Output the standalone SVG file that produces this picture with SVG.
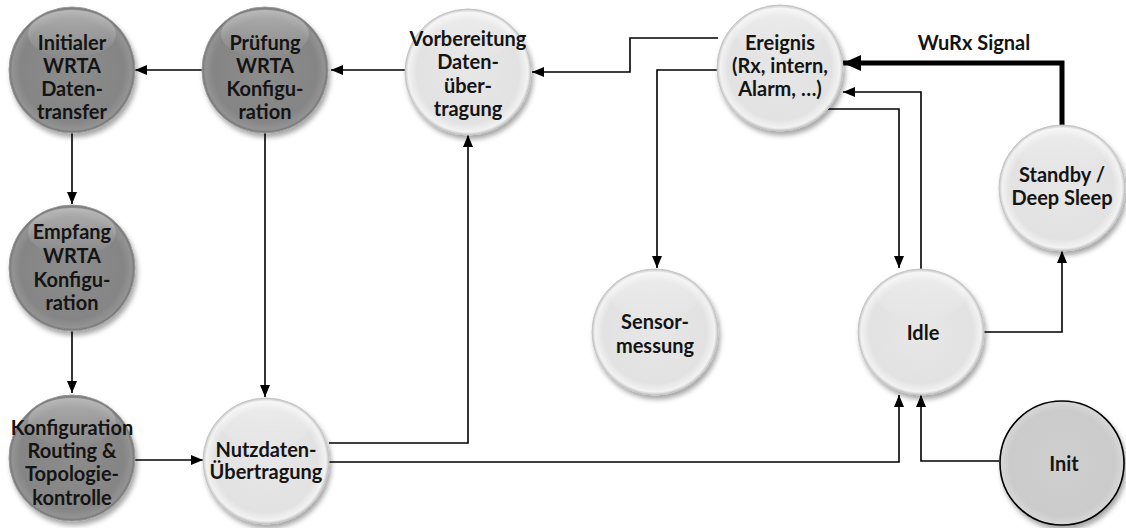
<svg xmlns="http://www.w3.org/2000/svg" width="1126" height="528" viewBox="0 0 1126 528">
  <defs>
    <style>
      .lbl { font-family: Lato, "Liberation Sans", sans-serif; font-weight: bold; font-size: 20px; fill: #141414; text-anchor: middle; }
      .wire { fill: none; stroke: #000; stroke-width: 1.6; marker-end: url(#arrow); }
      .wire-bold { fill: none; stroke: #000; stroke-width: 5; marker-end: url(#arrow-big); }
      .dark { fill: url(#gDark); stroke: #9a9a9a; stroke-width: 1; filter: url(#shadow); }
      .light { fill: url(#gLight); stroke: #c4c4c4; stroke-width: 1; filter: url(#shadow); }
      .init { fill: url(#gInit); stroke: #000; stroke-width: 1.6; filter: url(#shadow); }
      .gloss { fill: url(#gGloss); }
    </style>
    <radialGradient id="gDark" cx="50%" cy="50%" r="50%">
      <stop offset="0" stop-color="#8c8c8c"/>
      <stop offset="0.82" stop-color="#858585"/>
      <stop offset="0.95" stop-color="#939393"/>
      <stop offset="1" stop-color="#6e6e6e"/>
    </radialGradient>
    <radialGradient id="gLight" cx="50%" cy="50%" r="50%">
      <stop offset="0" stop-color="#e7e7e7"/>
      <stop offset="0.82" stop-color="#e2e2e2"/>
      <stop offset="0.95" stop-color="#f2f2f2"/>
      <stop offset="1" stop-color="#c6c6c6"/>
    </radialGradient>
    <radialGradient id="gInit" cx="50%" cy="50%" r="50%">
      <stop offset="0" stop-color="#cfcfcf"/>
      <stop offset="0.85" stop-color="#cbcbcb"/>
      <stop offset="1" stop-color="#d8d8d8"/>
    </radialGradient>
    <linearGradient id="gGloss" x1="0" y1="0" x2="0" y2="1">
      <stop offset="0" stop-color="#fff" stop-opacity="0.35"/>
      <stop offset="1" stop-color="#fff" stop-opacity="0"/>
    </linearGradient>
    <filter id="shadow" x="-20%" y="-20%" width="150%" height="150%">
      <feDropShadow dx="2" dy="4" stdDeviation="2.5" flood-color="#000" flood-opacity="0.35"/>
    </filter>
    <marker id="arrow" markerUnits="userSpaceOnUse" viewBox="0 0 12 10" refX="12" refY="5" markerWidth="12" markerHeight="10" orient="auto">
      <path d="M0,0 L12,5 L0,10 z" fill="#000"/>
    </marker>
    <marker id="arrow-big" markerUnits="userSpaceOnUse" viewBox="0 0 18 16" refX="18" refY="8" markerWidth="18" markerHeight="16" orient="auto">
      <path d="M0,0 L18,8 L0,16 z" fill="#000"/>
    </marker>
  </defs>

  <rect width="1126" height="528" fill="#fff"/>

  <!-- connectors -->
  <g id="connectors">
    <path class="wire" d="M202,70 H135"/>
    <path class="wire" d="M405,70 H331"/>
    <path class="wire" d="M718,38 H630 V72 H532"/>
    <path class="wire" d="M718,70 H657 V268"/>
    <path class="wire" d="M828,109 H899 V268"/>
    <path class="wire" d="M921,269 V92 H843"/>
    <path class="wire-bold" d="M1062,126 V63 H843"/>
    <path class="wire" d="M984,332 H1062 V251"/>
    <path class="wire" d="M999,461 H921 V395"/>
    <path class="wire" d="M329,462 H899 V395"/>
    <path class="wire" d="M329,443 H468 V135"/>
    <path class="wire" d="M265,133 V397"/>
    <path class="wire" d="M72,133 V204"/>
    <path class="wire" d="M72,331 V393"/>
    <path class="wire" d="M135,460 H203"/>
    <text class="lbl" x="974" y="50">WuRx Signal</text>
  </g>

  <g id="n-initialer">
    <circle class="dark" cx="72" cy="70" r="63"/>
    <ellipse class="gloss" cx="72" cy="34" rx="44" ry="24"/>
    <text class="lbl"><tspan x="72" y="50">Initialer</tspan><tspan x="72" y="73">WRTA</tspan><tspan x="72" y="96">Daten-</tspan><tspan x="72" y="119">transfer</tspan></text>
  </g>

  <g id="n-pruefung">
    <circle class="dark" cx="265" cy="70" r="63"/>
    <ellipse class="gloss" cx="265" cy="34" rx="44" ry="24"/>
    <text class="lbl"><tspan x="265" y="50">Prüfung</tspan><tspan x="265" y="73">WRTA</tspan><tspan x="265" y="96">Konfigu-</tspan><tspan x="265" y="119">ration</tspan></text>
  </g>

  <g id="n-vorbereitung">
    <circle class="light" cx="468" cy="72" r="63"/>
    <ellipse class="gloss" cx="468" cy="36" rx="44" ry="24"/>
    <text class="lbl"><tspan x="468" y="46">Vorbereitung</tspan><tspan x="468" y="69">Daten-</tspan><tspan x="468" y="93">über-</tspan><tspan x="468" y="116">tragung</tspan></text>
  </g>

  <g id="n-ereignis">
    <circle class="light" cx="780" cy="68" r="63"/>
    <ellipse class="gloss" cx="780" cy="32" rx="44" ry="24"/>
    <text class="lbl"><tspan x="780" y="50">Ereignis</tspan><tspan x="780" y="73">(Rx, intern,</tspan><tspan x="780" y="96">Alarm, …)</tspan></text>
  </g>

  <g id="n-standby">
    <circle class="light" cx="1062" cy="188" r="63"/>
    <ellipse class="gloss" cx="1062" cy="152" rx="44" ry="24"/>
    <text class="lbl"><tspan x="1062" y="182">Standby /</tspan><tspan x="1062" y="205">Deep Sleep</tspan></text>
  </g>

  <g id="n-empfang">
    <circle class="dark" cx="72" cy="268" r="63"/>
    <ellipse class="gloss" cx="72" cy="232" rx="44" ry="24"/>
    <text class="lbl"><tspan x="72" y="239">Empfang</tspan><tspan x="72" y="263">WRTA</tspan><tspan x="72" y="287">Konfigu-</tspan><tspan x="72" y="310">ration</tspan></text>
  </g>

  <g id="n-sensormessung">
    <circle class="light" cx="655" cy="332" r="63"/>
    <ellipse class="gloss" cx="655" cy="296" rx="44" ry="24"/>
    <text class="lbl"><tspan x="655" y="329">Sensor-</tspan><tspan x="655" y="353">messung</tspan></text>
  </g>

  <g id="n-idle">
    <circle class="light" cx="921" cy="332" r="63"/>
    <ellipse class="gloss" cx="921" cy="296" rx="44" ry="24"/>
    <text class="lbl" x="923" y="340">Idle</text>
  </g>

  <g id="n-konfiguration">
    <circle class="dark" cx="72" cy="458" r="63"/>
    <ellipse class="gloss" cx="72" cy="422" rx="44" ry="24"/>
    <text class="lbl"><tspan x="72" y="435">Konfiguration</tspan><tspan x="72" y="458">Routing &amp;</tspan><tspan x="72" y="481">Topologie-</tspan><tspan x="72" y="505">kontrolle</tspan></text>
  </g>

  <g id="n-nutzdaten">
    <circle class="light" cx="266" cy="461" r="63"/>
    <ellipse class="gloss" cx="266" cy="425" rx="44" ry="24"/>
    <text class="lbl"><tspan x="266" y="457">Nutzdaten-</tspan><tspan x="266" y="479">Übertragung</tspan></text>
  </g>

  <g id="n-init">
    <circle class="init" cx="1062" cy="463" r="62"/>
    <text class="lbl" x="1064" y="471">Init</text>
  </g>
</svg>
